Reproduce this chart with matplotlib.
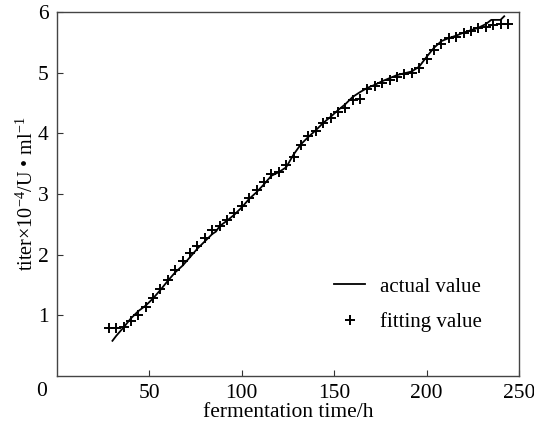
import matplotlib
matplotlib.use("Agg")
import matplotlib.pyplot as plt

plt.rcParams['font.family'] = ['Liberation Serif', 'DejaVu Serif']
plt.rcParams['mathtext.fontset'] = 'custom'
plt.rcParams['mathtext.rm'] = 'Liberation Serif'
plt.rcParams['mathtext.it'] = 'Liberation Serif:italic'

# actual (measured) titer curve
actual_t = [30, 32, 36, 40, 44, 48, 52, 56, 60, 64, 68, 72, 76, 80, 84, 86, 88,
            92, 96, 100, 104, 108, 112, 116, 120, 124, 128, 132, 136, 140, 144,
            148, 152, 156, 160, 164, 168, 172, 176, 180, 184, 188, 192, 196, 200,
            204, 208, 212, 216, 220, 224, 228, 232, 235, 240, 242]
actual_v = [0.58, 0.66, 0.80, 0.95, 1.07, 1.16, 1.28, 1.42, 1.57, 1.71, 1.82,
            1.96, 2.10, 2.22, 2.34, 2.38, 2.47, 2.56, 2.66, 2.78, 2.92, 3.03,
            3.16, 3.30, 3.36, 3.44, 3.65, 3.82, 3.94, 4.05, 4.17, 4.27, 4.38,
            4.48, 4.60, 4.68, 4.75, 4.80, 4.86, 4.91, 4.96, 4.99, 5.02, 5.10,
            5.26, 5.41, 5.52, 5.57, 5.61, 5.66, 5.70, 5.74, 5.80, 5.87, 5.87, 5.93]

# fitted values
fit_t = [28, 32, 36, 40, 44, 48, 52, 56, 60, 64, 68, 72, 76, 80, 84, 88, 92,
         96, 100, 104, 108, 112, 116, 120, 124, 128, 132, 136, 140, 144, 148,
         152, 156, 160, 164, 168, 172, 176, 180, 184, 188, 192, 196, 200, 204,
         208, 212, 216, 220, 224, 228, 232, 236, 240, 244]
fit_v = [0.79, 0.79, 0.81, 0.91, 1.01, 1.13, 1.28, 1.43, 1.59, 1.75, 1.89,
         2.03, 2.15, 2.28, 2.40, 2.47, 2.57, 2.69, 2.80, 2.94, 3.07, 3.20,
         3.33, 3.37, 3.47, 3.61, 3.80, 3.95, 4.04, 4.17, 4.25, 4.35, 4.42,
         4.55, 4.56, 4.73, 4.78, 4.83, 4.88, 4.93, 4.98, 4.99, 5.08, 5.22,
         5.37, 5.48, 5.57, 5.58, 5.65, 5.68, 5.73, 5.75, 5.79, 5.80, 5.80]

x_ticks = [50, 100, 150, 200, 250]
y_ticks = [1, 2, 3, 4, 5, 6]

fig = plt.figure(figsize=(5.34, 4.26), dpi=100)
ax = fig.add_axes([57/534, 50/426, 462/534, 364/426])

ax.plot(actual_t, actual_v, color='black', lw=1.3, label='actual value')
ax.plot(fit_t, fit_v, ls='none', marker='+', ms=7.5, mew=1.4, color='black',
        label='fitting value')

ax.set_xlim(0, 250)
ax.set_ylim(0, 6)
ax.set_xticks(x_ticks)
ax.set_yticks(y_ticks)
ax.tick_params(direction='in', length=4, width=0.8, labelsize=15.5, pad=6,
               colors='#333333', labelcolor='black')
for s in ax.spines.values():
    s.set_color('#444444')
    s.set_linewidth(1.0)

# shared origin label
fig.text(42/534, 1 - 392/426, '0', ha='center', va='center', fontsize=15.5)

ax.set_xlabel('fermentation time/h', fontsize=15.5, labelpad=0)
ax.set_ylabel('titer×10$^{-4}$/U • ml$^{-1}$', fontsize=14.5, labelpad=0)

ax.legend(loc='upper left', bbox_to_anchor=(277/462, 99/364), frameon=False,
          fontsize=15, handlelength=1.5, labelspacing=0.75, handletextpad=0.7,
          borderpad=0, borderaxespad=0)

fig.savefig('out.png', dpi=100)
